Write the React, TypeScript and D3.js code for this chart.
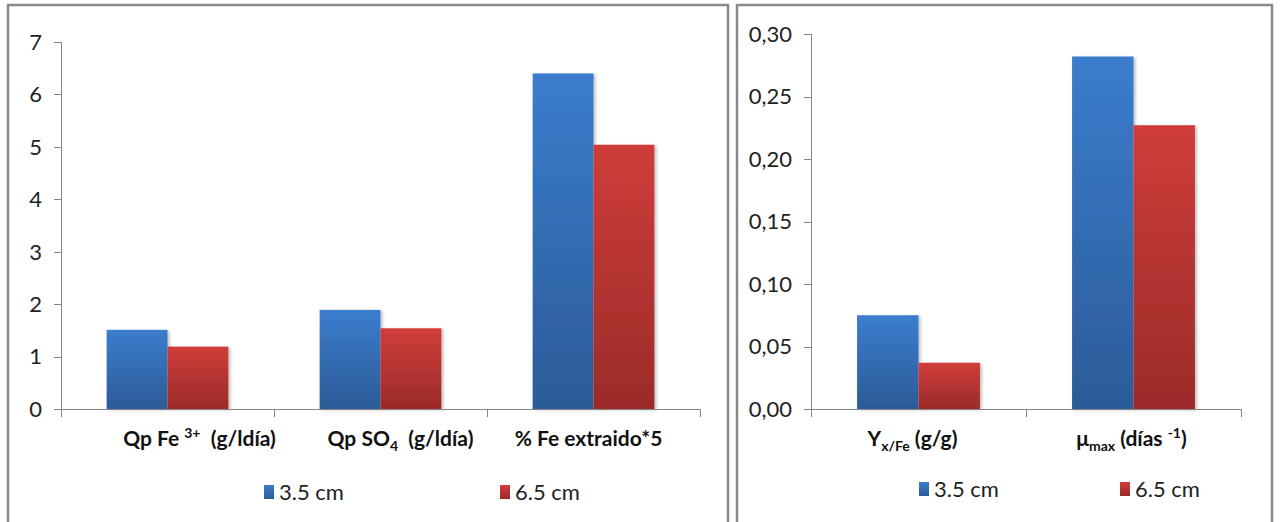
import React from "react";
import * as d3 from "d3";

const seriesNames = ["3.5 cm", "6.5 cm"];
const leftCategories = ["fe", "so4", "ext"];
const leftSeriesA = [1.51, 1.89, 6.4];
const leftSeriesB = [1.19, 1.54, 5.04];
const leftTicks = [0, 1, 2, 3, 4, 5, 6, 7];
const rightCategories = ["yx", "mu"];
const rightSeriesA = [0.075, 0.282];
const rightSeriesB = [0.037, 0.227];
const rightTicks = [0, 0.05, 0.1, 0.15, 0.2, 0.25, 0.3];
const leftLabelDx = [32, 20, -5];
const rightLabelDx = [-6, -2];

const FONT = "Lato, 'Open Sans', sans-serif";
const AXIS = "#868686";

function catLabel(key: string) {
  const sup = { fontSize: 14 } as any;
  switch (key) {
    case "fe":
      return (
        <>
          <tspan>Qp Fe </tspan>
          <tspan dy={-8} style={sup}>3+</tspan>
          <tspan dy={8}>{"\u00a0\u00a0(g/ldía)"}</tspan>
        </>
      );
    case "so4":
      return (
        <>
          <tspan>Qp SO</tspan>
          <tspan dy={5} style={sup}>4</tspan>
          <tspan dy={-5}>{"\u00a0\u00a0(g/ldía)"}</tspan>
        </>
      );
    case "ext":
      return <tspan>% Fe extraido*5</tspan>;
    case "yx":
      return (
        <>
          <tspan>Y</tspan>
          <tspan dy={5} style={sup}>x/Fe</tspan>
          <tspan dy={-5}> (g/g)</tspan>
        </>
      );
    case "mu":
      return (
        <>
          <tspan>μ</tspan>
          <tspan dy={5} style={sup}>max</tspan>
          <tspan dy={-5}> (días </tspan>
          <tspan dy={-8} style={sup}>-1</tspan>
          <tspan dy={8}>)</tspan>
        </>
      );
  }
  return null;
}

type PanelProps = {
  frame: [number, number];
  x0: number;
  x1: number;
  yTop: number;
  yBase: number;
  cats: string[];
  a: number[];
  b: number[];
  ticks: number[];
  max: number;
  fmt: (v: number) => string;
  dx: number[];
  legendX: [number, number];
  legendY: number;
};

function Panel(p: PanelProps) {
  const x = d3.scaleBand<string>().domain(p.cats).range([p.x0, p.x1]).paddingInner(0).paddingOuter(0);
  const y = d3.scaleLinear().domain([0, p.max]).range([p.yBase, p.yTop]);
  const bw = x.bandwidth() / 3.5;
  const boundaries = [...p.cats.map((c) => x(c)!), p.x1];
  return (
    <g>
      <rect x={p.frame[0]} y={5} width={p.frame[1] - p.frame[0]} height={540} fill="#fff" stroke="#8a8a8a" strokeWidth={2.5} />
      {/* y axis */}
      <line x1={p.x0 + 0.5} x2={p.x0 + 0.5} y1={y(p.max)} y2={p.yBase} stroke={AXIS} />
      {p.ticks.map((t) => (
        <g key={t}>
          <line x1={p.x0 - 7} x2={p.x0} y1={Math.round(y(t)) + 0.5} y2={Math.round(y(t)) + 0.5} stroke={AXIS} />
          <text x={p.x0 - 19} y={y(t)} dy="0.36em" textAnchor="end" fontSize={22} fontFamily={FONT} fill="#222">
            {p.fmt(t)}
          </text>
        </g>
      ))}
      {/* bars */}
      {p.cats.map((c, i) => {
        const cx = x(c)! + x.bandwidth() / 2;
        return (
          <g key={c} filter="url(#shadow)">
            <rect x={cx - bw} y={y(p.a[i])} width={bw} height={p.yBase - y(p.a[i])} fill="url(#gBlue)" />
            <rect x={cx} y={y(p.b[i])} width={bw} height={p.yBase - y(p.b[i])} fill="url(#gRed)" />
          </g>
        );
      })}
      {/* x axis */}
      <line x1={p.x0} x2={p.x1} y1={p.yBase + 0.5} y2={p.yBase + 0.5} stroke={AXIS} />
      {boundaries.map((bx, i) => (
        <line key={i} x1={Math.round(bx) + 0.5} x2={Math.round(bx) + 0.5} y1={p.yBase} y2={p.yBase + 8} stroke={AXIS} />
      ))}
      {p.cats.map((c, i) => (
        <text key={c} x={x(c)! + x.bandwidth() / 2 + p.dx[i]} y={446} textAnchor="middle" fontSize={21} fontWeight="bold" fontFamily={FONT} fill="#111">
          {catLabel(c)}
        </text>
      ))}
      {/* legend */}
      {seriesNames.map((s, i) => (
        <g key={s}>
          <rect x={p.legendX[i]} y={p.legendY - 7} width={10} height={14} fill={i === 0 ? "url(#gBlue)" : "url(#gRed)"} />
          <text x={p.legendX[i] + 15} y={p.legendY} dy="0.36em" fontSize={22} fontFamily={FONT} fill="#222">
            {s}
          </text>
        </g>
      ))}
    </g>
  );
}

export default function App() {
  const fmtL = (v: number) => d3.format("d")(v);
  const fmtR = (v: number) => d3.format(".2f")(v).replace(".", ",");
  return (
    <svg width={1280} height={522} style={{ position: "absolute", left: 0, top: 0, background: "#fff" }}>
      <defs>
        <linearGradient id="gBlue" x1="0" y1="0" x2="0" y2="1">
          <stop offset="0" stopColor="#3b7dcd" />
          <stop offset="1" stopColor="#2c5b98" />
        </linearGradient>
        <linearGradient id="gRed" x1="0" y1="0" x2="0" y2="1">
          <stop offset="0" stopColor="#cf3d3a" />
          <stop offset="1" stopColor="#9b2b29" />
        </linearGradient>
        <filter id="shadow" x="-10%" y="-10%" width="130%" height="120%">
          <feDropShadow dx={2} dy={1} stdDeviation={1.5} floodColor="#000" floodOpacity={0.25} />
        </filter>
      </defs>
      <Panel
        frame={[8, 728]}
        x0={61}
        x1={700}
        yTop={42}
        yBase={409}
        cats={leftCategories}
        a={leftSeriesA}
        b={leftSeriesB}
        ticks={leftTicks}
        max={7}
        fmt={fmtL}
        dx={leftLabelDx}
        legendX={[264, 500]}
        legendY={492}
      />
      <Panel
        frame={[737, 1272]}
        x0={811}
        x1={1241}
        yTop={34}
        yBase={409}
        cats={rightCategories}
        a={rightSeriesA}
        b={rightSeriesB}
        ticks={rightTicks}
        max={0.3}
        fmt={fmtR}
        dx={rightLabelDx}
        legendX={[919, 1120]}
        legendY={489}
      />
    </svg>
  );
}
